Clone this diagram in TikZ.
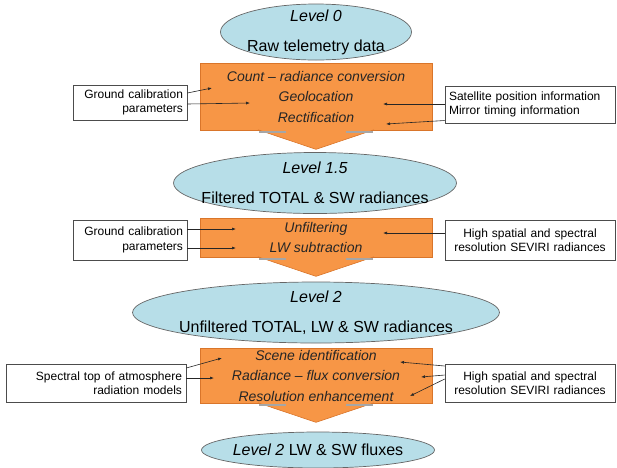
\documentclass[tikz,border=0pt]{standalone}
\usepackage{fontspec}
\setmainfont{Liberation Sans}
\usetikzlibrary{shapes.geometric,arrows.meta,calc}

\definecolor{procorange}{HTML}{F79646}
\definecolor{procedge}{HTML}{D9752A}
\definecolor{levelblue}{HTML}{B7DEE8}

\begin{document}
\begin{tikzpicture}[x=1pt,y=-1pt,
	levelshape/.style={ellipse, fill=levelblue, draw=black!60, line width=0.7pt, inner sep=0pt},
	leveltext/.style={align=center, inner sep=0pt, font=\fontsize{16}{30}\selectfont},
	procbox/.style={rectangle, fill=procorange, draw=procedge, line width=0.6pt, minimum width=232, inner sep=0pt, align=center, text=black!85, font=\fontsize{14}{20.5}\selectfont\itshape},
	proctip/.style={fill=procorange, draw=procedge, line width=0.6pt},
	tipmark/.style={draw=black!35, line width=2pt},
	inbox/.style={rectangle, draw=black!70, fill=white, line width=0.6pt, inner sep=4pt, font=\fontsize{12}{14.5}\selectfont},
	feed/.style={-{Latex[length=4pt,width=3pt]}, line width=0.6pt, black!85}]

	\useasboundingbox (0,0) rectangle (617,467);

	% Processing boxes
	\node[procbox, minimum height=67] (o1) at (316,96.5) {Count -- radiance conversion\\Geolocation\\Rectification};
	\node[procbox, minimum height=39] (o2) at (316,237.5) {Unfiltering\\LW subtraction};
	\node[procbox, minimum height=55] (o3) at (316,375.5) {Scene identification\\Radiance -- flux conversion\\Resolution enhancement};

	% Arrow tips under the boxes
	\foreach \b in {o1,o2,o3}{
		\filldraw[proctip] ($(\b.south)+(-58,-0.5)$) -- ($(\b.south)+(0,19)$) -- ($(\b.south)+(58,-0.5)$);
		\draw[tipmark] ($(\b.south)+(-57,1.5)$) -- ++(27,0);
		\draw[tipmark] ($(\b.south)+(30,1.5)$) -- ++(27,0);
	}

	% Levels
	\node[levelshape, minimum width=191, minimum height=56] (l0) at (316,32) {};
	\node[leveltext] (l0t) at (l0) {\textit{Level 0}\\Raw telemetry data};
	\node[levelshape, minimum width=283, minimum height=61] (l15) at (315,183) {};
	\node[leveltext] (l15t) at (l15) {\textit{Level 1.5}\\Filtered TOTAL \& SW radiances};
	\node[levelshape, minimum width=367, minimum height=61] (l2) at (316,312.5) {};
	\node[leveltext] (l2t) at (l2) {\textit{Level 2}\\Unfiltered TOTAL, LW \& SW radiances};
	\node[levelshape, minimum width=233, minimum height=36] (l2f) at (318,450) {};
	\node[leveltext] (l2ft) at (l2f) {\textit{Level 2} LW \& SW fluxes};

	% Inputs, left
	\node[inbox, minimum width=114, minimum height=35, text width=106, align=right] (g1) at (130,102.5) {Ground calibration\\parameters};
	\node[inbox, minimum width=114, minimum height=40, text width=106, align=right] (g2) at (130,240) {Ground calibration\\parameters};
	\node[inbox, minimum width=180, minimum height=38, text width=172, align=right] (g3) at (96,383) {Spectral top of atmosphere\\radiation models};

	% Inputs, right
	\node[inbox, minimum width=170, minimum height=37, text width=162, align=left] (s1) at (530,104.5) {Satellite position information\\Mirror timing information};
	\node[inbox, minimum width=170, minimum height=40, text width=162, align=center] (s2) at (530,240) {High spatial and spectral\\resolution SEVIRI radiances};
	\node[inbox, minimum width=170, minimum height=38, text width=162, align=center] (s3) at (530,383) {High spatial and spectral\\resolution SEVIRI radiances};

	% Where the inputs go in
	\coordinate (g1a) at (212,88);
	\coordinate (g1b) at (250,103);
	\coordinate (s1a) at (383,104);
	\coordinate (s1b) at (386,124);
	\coordinate (g2a) at (236,229);
	\coordinate (g2b) at (236,248);
	\coordinate (s2a) at (383,233);
	\coordinate (g3a) at (222,358);
	\coordinate (g3b) at (214,378);
	\coordinate (s3a) at (400,362);
	\coordinate (s3b) at (421,377);
	\coordinate (s3c) at (410,396);

	\draw[feed] ($(g1.east)+(0,-9.5)$) -- (g1a);
	\draw[feed] ($(g1.east)+(0,1.5)$) -- (g1b);
	\draw[feed] ($(s1.west)+(0,-0.5)$) -- (s1a);
	\draw[feed] ($(s1.west)+(0,16)$) -- (s1b);
	\draw[feed] ($(g2.east)+(0,-11)$) -- (g2a);
	\draw[feed] ($(g2.east)+(0,8)$) -- (g2b);
	\draw[feed] ($(s2.west)+(0,-7)$) -- (s2a);
	\draw[feed] ($(g3.east)+(0,-15)$) -- (g3a);
	\draw[feed] ($(g3.east)+(0,-5)$) -- (g3b);
	\draw[feed] ($(s3.west)+(0,-17)$) -- (s3a);
	\draw[feed] ($(s3.west)+(0,-8)$) -- (s3b);
	\draw[feed] ($(s3.west)+(0,-4)$) -- (s3c);

\end{tikzpicture}
\end{document}
